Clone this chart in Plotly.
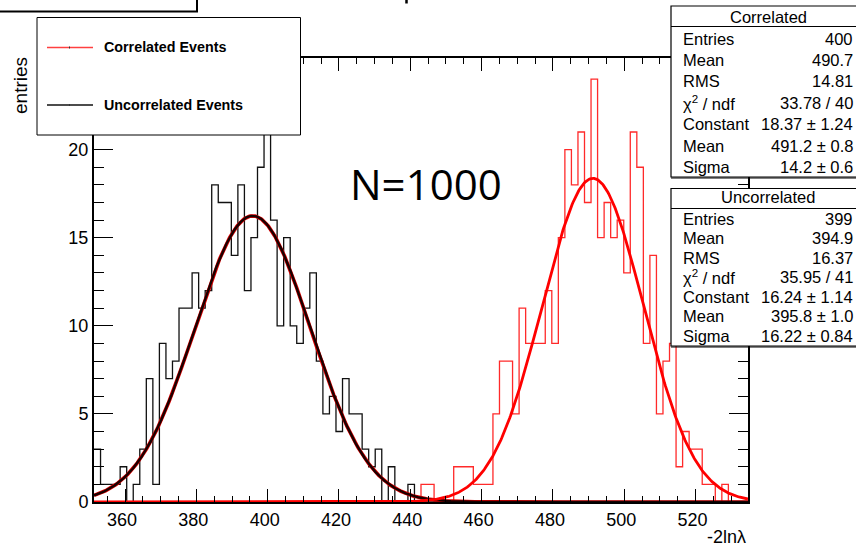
import numpy as np
import plotly.graph_objects as go

# ---------------- data ----------------
x_min = 351.3
x_max = 534.7
n_bins = 100

uncorr_counts = [3, 1, 1, 1, 2, 0, 1, 3, 7, 1,
                 9, 7, 8, 11, 11, 13, 11, 12, 18, 17,
                 17, 14, 18, 12, 15, 19, 22, 16, 10, 15,
                 10, 9, 11, 13, 8, 5, 6, 4, 7, 5,
                 5, 3, 2, 3, 0, 2, 0, 0, 1, 0] + [0] * 50

corr_counts = [0] * 50 + [1, 1, 0, 0, 0, 2, 2, 2, 1, 1,
                          1, 5, 8, 8, 5, 11, 9, 9, 9, 12,
                          9, 15, 20, 18, 21, 17, 24, 15, 17, 15,
                          16, 13, 21, 19, 9, 14, 5, 8, 9, 2,
                          4, 3, 3, 1, 1, 0, 1, 0, 0, 0]

# Gaussian fit parameters (Constant, Mean, Sigma)
corr_fit = [18.37, 491.2, 14.2]
uncorr_fit = [16.24, 395.8, 16.22]

stat_labels = ["Entries", "Mean", "RMS", "χ<sup>2</sup> / ndf", "Constant", "Mean", "Sigma"]
corr_stats = ["400", "490.7", "14.81", "33.78 / 40", "18.37 ± 1.24", "491.2 ± 0.8", "14.2 ± 0.6"]
uncorr_stats = ["399", "394.9", "16.37", "35.95 / 41", "16.24 ± 1.14", "395.8 ± 1.0", "16.22 ± 0.84"]

x_ticks = [360, 380, 400, 420, 440, 460, 480, 500, 520]
y_ticks = [0, 5, 10, 15, 20, 25]
y_max = 25.2

# ---------------- geometry helpers ----------------
W, H = 856, 548
L, R, T, B = 94, 748, 58, 502


def px(xp):
    return (xp - L) / (R - L)


def py(yp):
    return (B - yp) / (B - T)


FONT = "Liberation Sans, Arial, Helvetica, sans-serif"

edges = x_min + (x_max - x_min) / n_bins * np.arange(n_bins + 1)


def step_y(counts):
    return list(counts) + [counts[-1]]


def gauss(p, x):
    return p[0] * np.exp(-0.5 * ((x - p[1]) / p[2]) ** 2)


xf = np.linspace(x_min, x_max, 800)

fig = go.Figure()

# histograms
fig.add_trace(go.Scatter(x=edges, y=step_y(corr_counts), mode="lines",
                         line=dict(shape="hv", color="#ff2a2a", width=1.3),
                         hoverinfo="skip", showlegend=False))
fig.add_trace(go.Scatter(x=edges, y=step_y(uncorr_counts), mode="lines",
                         line=dict(shape="hv", color="#111111", width=1.3),
                         hoverinfo="skip", showlegend=False))
# fits
fig.add_trace(go.Scatter(x=xf, y=gauss(uncorr_fit, xf), mode="lines",
                         line=dict(color="#e00000", width=3.6),
                         hoverinfo="skip", showlegend=False))
fig.add_trace(go.Scatter(x=xf, y=gauss(uncorr_fit, xf), mode="lines",
                         line=dict(color="#1a0000", width=2.4),
                         hoverinfo="skip", showlegend=False))
fig.add_trace(go.Scatter(x=xf, y=gauss(corr_fit, xf), mode="lines",
                         line=dict(color="#ff0000", width=2.8),
                         hoverinfo="skip", showlegend=False))

axis_common = dict(showgrid=False, zeroline=False, showline=True, linewidth=2,
                   linecolor="black", ticks="inside", tickcolor="black",
                   tickwidth=1, mirror="allticks",
                   tickfont=dict(family=FONT, size=18, color="black"))

fig.update_xaxes(range=[x_min, x_max], tickvals=x_ticks, ticklen=13, ticklabelshift=-3,
                 minor=dict(dtick=5, ticklen=6, ticks="inside", tickcolor="black", tickwidth=1),
                 **axis_common)
fig.update_yaxes(range=[0, y_max], tickvals=y_ticks, ticklen=19,
                 minor=dict(dtick=1, ticklen=10, ticks="inside", tickcolor="black", tickwidth=1),
                 **axis_common)

shapes = []
annotations = []

# title box (cut off at top-left)
shapes.append(dict(type="rect", xref="paper", yref="paper",
                   x0=px(-3), x1=px(197), y0=py(-3), y1=py(11.5),
                   line=dict(color="black", width=2), fillcolor="white", layer="above"))
# stub of a cut-off character at the top edge
shapes.append(dict(type="line", xref="paper", yref="paper",
                   x0=px(406.5), x1=px(406.5), y0=py(-1), y1=py(3.5),
                   line=dict(color="black", width=2.5), layer="above"))

# legend box
shapes.append(dict(type="rect", xref="paper", yref="paper",
                   x0=px(37), x1=px(300.5), y0=py(17.5), y1=py(135),
                   line=dict(color="black", width=1), fillcolor="white", layer="above"))
legend_items = [("Correlated Events", "#ff4040", 47.5), ("Uncorrelated Events", "#111111", 105)]
for name, col, yy in legend_items:
    shapes.append(dict(type="line", xref="paper", yref="paper",
                       x0=px(47), x1=px(93), y0=py(yy), y1=py(yy),
                       line=dict(color=col, width=1.3), layer="above"))
    shapes.append(dict(type="line", xref="paper", yref="paper",
                       x0=px(69.5), x1=px(69.5), y0=py(yy - 1), y1=py(yy + 1),
                       line=dict(color="#333", width=1), layer="above"))
    annotations.append(dict(xref="paper", yref="paper", x=px(101.5), y=py(yy),
                            xanchor="left", yanchor="middle", showarrow=False,
                            text="<b>%s</b>" % name,
                            font=dict(family=FONT, size=14.3, color="black")))

# stats boxes
boxes = [("Correlated", corr_stats, 6, 26.5, 177, 16.7, 38.5, 21.4, 855),
         ("Uncorrelated", uncorr_stats, 188.5, 208.5, 346, 197.5, 218.7, 19.5, 855)]
for title, vals, y0, ydiv, y1, ytitle, yrow0, dy, xr in boxes:
    shapes.append(dict(type="rect", xref="paper", yref="paper",
                       x0=px(671), x1=px(880), y0=py(y0), y1=py(y1),
                       line=dict(color="black", width=1.2), fillcolor="white", layer="above"))
    shapes.append(dict(type="line", xref="paper", yref="paper",
                       x0=px(671), x1=px(880), y0=py(y1 + 1), y1=py(y1 + 1),
                       line=dict(color="black", width=1), layer="above"))
    shapes.append(dict(type="line", xref="paper", yref="paper",
                       x0=px(671), x1=px(880), y0=py(ydiv), y1=py(ydiv),
                       line=dict(color="black", width=1), layer="above"))
    annotations.append(dict(xref="paper", yref="paper", x=px(768), y=py(ytitle),
                            xanchor="center", yanchor="middle", showarrow=False,
                            text=title, font=dict(family=FONT, size=16.5, color="black")))
    for k, (lab, val) in enumerate(zip(stat_labels, vals)):
        yy = yrow0 + k * dy
        annotations.append(dict(xref="paper", yref="paper", x=px(681), y=py(yy),
                                xanchor="left", yanchor="middle", showarrow=False,
                                text=lab, font=dict(family=FONT, size=16.5, color="black")))
        annotations.append(dict(xref="paper", yref="paper", x=px(xr), y=py(yy),
                                xanchor="right", yanchor="middle", showarrow=False,
                                text=val, font=dict(family=FONT, size=16.5, color="black")))

# N=1000 label
annotations.append(dict(xref="paper", yref="paper", x=px(426), y=py(183),
                        xanchor="center", yanchor="middle", showarrow=False,
                        text="N=1000", font=dict(family="Open Sans, sans-serif", size=42, color="black")))

# axis titles
annotations.append(dict(xref="paper", yref="paper", x=px(20), y=py(86),
                        xanchor="center", yanchor="middle", showarrow=False, textangle=-90,
                        text="entries", font=dict(family=FONT, size=19, color="black")))
annotations.append(dict(xref="paper", yref="paper", x=px(747.5), y=py(536.5),
                        xanchor="right", yanchor="middle", showarrow=False,
                        text="-2lnλ", font=dict(family=FONT, size=18, color="black")))

fig.update_layout(width=W, height=H,
                  margin=dict(l=L, r=W - R, t=T, b=H - B, pad=0),
                  paper_bgcolor="white", plot_bgcolor="white",
                  shapes=shapes, annotations=annotations, showlegend=False)

fig.write_html("out.html")
